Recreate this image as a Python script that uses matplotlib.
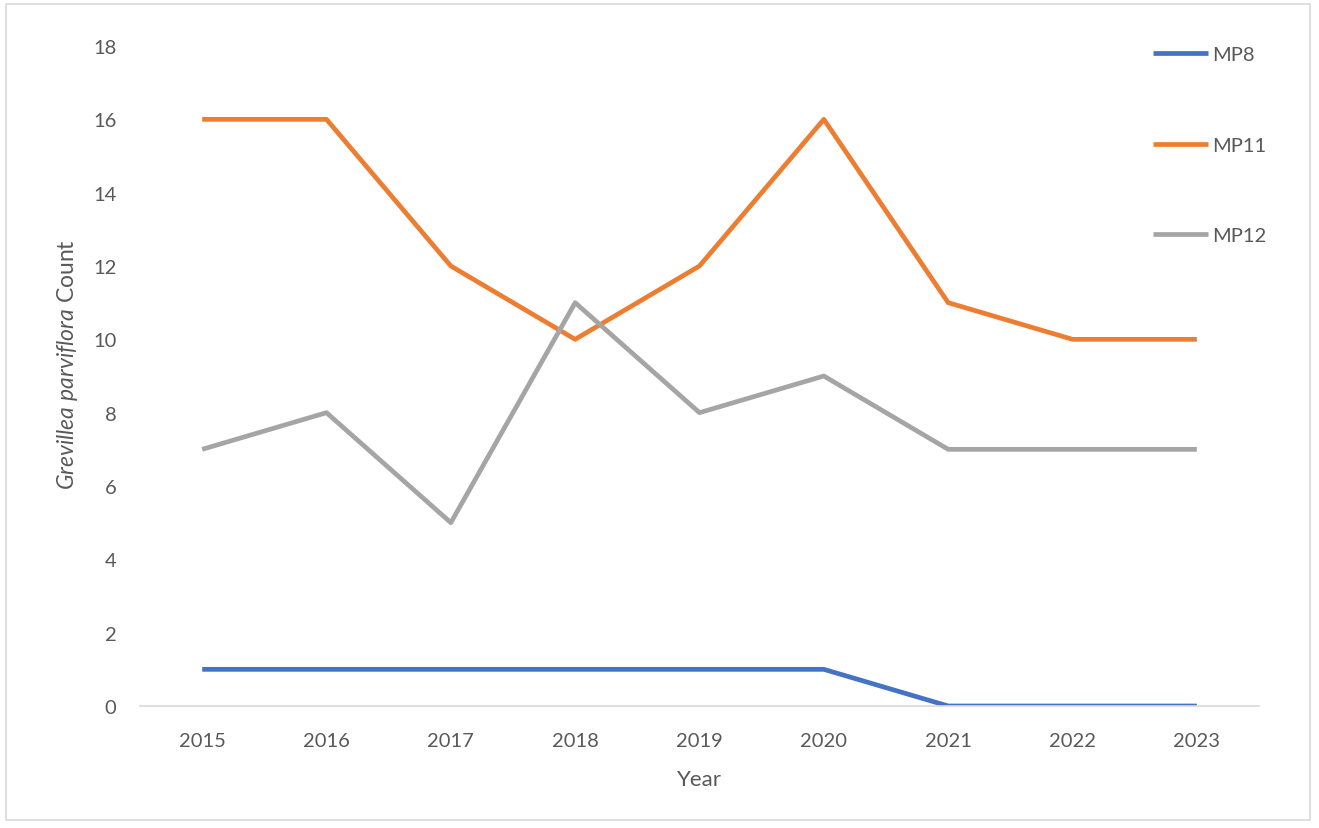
import matplotlib
matplotlib.use("Agg")
import matplotlib.pyplot as plt
from matplotlib.patches import Rectangle

years = ["2015", "2016", "2017", "2018", "2019", "2020", "2021", "2022", "2023"]
mp8 = [1, 1, 1, 1, 1, 1, 0, 0, 0]
mp11 = [16, 16, 12, 10, 12, 16, 11, 10, 10]
mp12 = [7, 8, 5, 11, 8, 9, 7, 7, 7]
series_names = ["MP8", "MP11", "MP12"]
colors = ["#4472C4", "#ED7D31", "#A5A5A5"]
yticks = [0, 2, 4, 6, 8, 10, 12, 14, 16, 18]

plt.rcParams['font.family'] = ['Lato', 'DejaVu Sans']
plt.rcParams['mathtext.fontset'] = 'custom'
plt.rcParams['mathtext.rm'] = 'Lato'
plt.rcParams['mathtext.it'] = 'Lato:italic'

W, H = 1319, 829
fig = plt.figure(figsize=(W / 100, H / 100), dpi=100)
ax = fig.add_axes([140 / W, 1 - 707 / H, (1259 - 140) / W, (707 - 47) / H])

x = list(range(len(years)))
for vals, name, c in zip([mp8, mp11, mp12], series_names, colors):
    ax.plot(x, vals, color=c, lw=3.4, label=name, solid_capstyle='butt', solid_joinstyle='round')

ax.set_xlim(-0.5, len(years) - 0.5)
ax.set_ylim(0, 18)
ax.set_yticks(yticks)
ax.set_xticks(x)
ax.set_xticklabels(years)
txtc = "#595959"
ax.tick_params(axis='both', length=0, labelsize=14.5, labelcolor=txtc)
ax.tick_params(axis='y', pad=17)
ax.tick_params(axis='x', pad=19)
for s in ['top', 'right', 'left']:
    ax.spines[s].set_visible(False)
ax.spines['bottom'].set_color('#D9D9D9')
ax.spines['bottom'].set_linewidth(1.2)

ax.set_xlabel("Year", fontsize=16, color=txtc, labelpad=14)
ax.set_ylabel(r"$\it{Grevillea\ parviflora}$ Count", fontsize=16.5, color=txtc)
ax.yaxis.set_label_coords((80 - 140) / 1119, (707 - 365) / 660)

leg = ax.legend(loc='upper left', bbox_to_anchor=(1153 / W, 1 - 47 / H), bbox_transform=fig.transFigure,
                frameon=False, fontsize=14.5, labelspacing=3.65, handlelength=2.75,
                handletextpad=0.2, borderpad=0, borderaxespad=0)
for t in leg.get_texts():
    t.set_color(txtc)

fig.patches.append(Rectangle((6 / W, 1 - 821 / H), (1310 - 6) / W, (821 - 5) / H,
                             transform=fig.transFigure, fill=False, edgecolor='#D9D9D9', lw=1.2))

fig.savefig("out.png", dpi=100)
